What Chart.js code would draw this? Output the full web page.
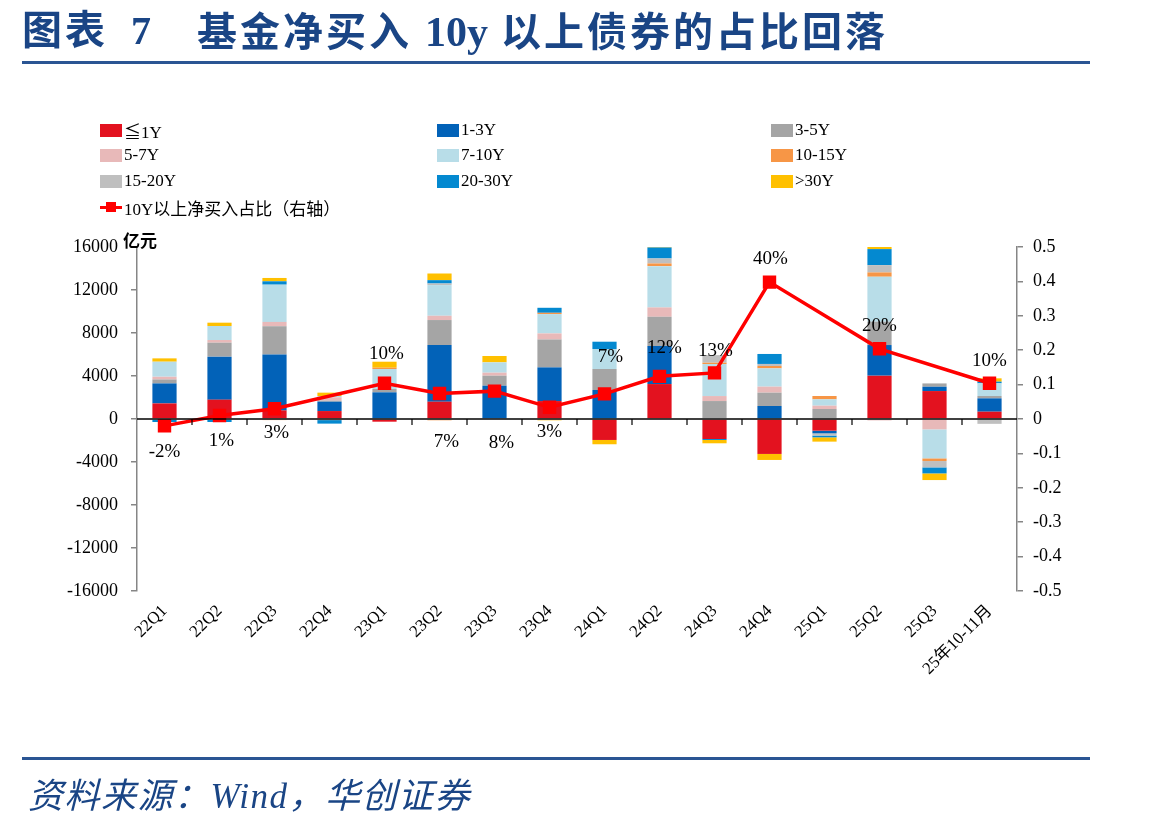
<!DOCTYPE html>
<html><head><meta charset="utf-8">
<script src="https://cdn.jsdelivr.net/npm/chart.js@4.4.1/dist/chart.umd.min.js"></script>
<style>
html,body{margin:0;padding:0;background:#fff;}
#wrap{position:relative;width:1149px;height:833px;overflow:hidden;background:#fff;}
#c{position:absolute;left:0;top:0;}
.t{position:absolute;white-space:nowrap;color:#1A4585;font-weight:bold;font-family:"Liberation Serif","Noto Sans CJK SC",serif;font-size:40px;letter-spacing:3px;line-height:1;}
.t b{letter-spacing:0;font-size:42px;}
.rule{position:absolute;left:22px;width:1068px;height:3px;background:#2A5593;}
.li{position:absolute;display:flex;align-items:center;height:24px;font-family:"Liberation Serif","Noto Sans CJK SC",serif;font-size:17px;color:#000;white-space:nowrap;}
.sw{width:22px;height:13px;margin-right:2px;}
.ln{position:relative;width:22px;height:3px;background:#FF0000;margin-right:2px;}
.ln i{position:absolute;left:6px;top:-4px;width:10px;height:10px;background:#FF0000;}
#foot{position:absolute;left:28px;top:779px;font-style:italic;font-weight:normal;font-size:35px;letter-spacing:1.5px;line-height:1;color:#1A4585;font-family:"Liberation Serif","Noto Sans CJK SC",serif;white-space:nowrap;}
#unit{position:absolute;left:123px;top:227px;font-weight:bold;font-size:17px;font-family:"Noto Sans CJK SC",sans-serif;color:#000;}
</style></head>
<body>
<div id="wrap">
<canvas id="c" width="1149" height="833"></canvas>
<div class="t" style="left:22px;top:11px;">图表</div>
<div class="t" style="left:131px;top:11px;">7</div>
<div class="t" style="left:197px;top:11px;">基金净买入 <b>10y</b> 以上债券的占比回落</div>
<div class="rule" style="top:61px;"></div>
<div id="legend"></div>
<div id="unit">亿元</div>
<div class="rule" style="top:757px;"></div>
<div id="foot">资料来源：Wind，华创证券</div>
</div>
<script>
const categories = ['22Q1','22Q2','22Q3','22Q4','23Q1','23Q2','23Q3','23Q4','24Q1','24Q2','24Q3','24Q4','25Q1','25Q2','25Q3','25年10-11月'];
const seriesNames = ['≦1Y','1-3Y','3-5Y','5-7Y','7-10Y','10-15Y','15-20Y','20-30Y','>30Y'];
const le1Y   = [1450,1800,800,740,-250,1610,0,1670,-1950,3250,-1860,-3250,-1085,4030,2600,680];
const y1_3   = [1860,4000,5200,870,2480,5270,3100,3130,2700,3530,0,1210,-250,2850,400,1240];
const y3_5   = [370,1300,2630,100,310,2325,930,2600,1950,2730,1670,1240,930,2170,310,220];
const y5_7   = [250,250,400,310,0,400,280,560,0,870,465,560,310,-130,-960,-80];
const y7_10  = [1400,1300,3470,120,1860,2850,960,1800,1860,3840,2980,1700,590,4185,-2700,1180];
const y10_15 = [0,0,-100,-100,120,-120,0,120,0,250,120,220,310,400,-250,0];
const y15_20 = [0,0,0,0,0,150,0,0,0,465,710,190,-200,680,-590,-370];
const y20_30 = [-280,-280,310,-330,0,310,0,465,680,1020,-90,930,-170,1490,-560,155];
const gt30   = [310,310,310,310,560,620,590,-120,-400,155,-310,-560,-400,310,-620,310];
const ratio10yPlus = [-0.02,0.01,0.03,null,0.104,0.074,0.081,0.034,0.073,0.124,0.134,0.398,null,0.204,null,0.104];
const lineName = '10Y以上净买入占比（右轴）';
const leftTicks = {min:-16000,max:16000,step:4000};
const rightTicks = {min:-0.5,max:0.5,step:0.1};

const seriesValues = [le1Y,y1_3,y3_5,y5_7,y7_10,y10_15,y15_20,y20_30,gt30];
const colors = ['#E3121F','#0262B8','#A5A5A5','#E8B9B9','#B8DDE8','#F79646','#BFBFBF','#0489D0','#FFC000'];

const FONT = '"Liberation Serif","Noto Sans CJK SC",serif';
Chart.defaults.font.family = FONT;
Chart.defaults.color = '#000';

const datasets = seriesNames.map((n,i)=>({
  type:'bar', label:n, data:seriesValues[i], backgroundColor:colors[i],
  yAxisID:'y', order:1, barPercentage:0.44, categoryPercentage:1.0, borderWidth:0
}));
datasets.push({
  type:'line', label:lineName, data:ratio10yPlus, yAxisID:'y2', order:0,
  borderColor:'#FF0000', backgroundColor:'#FF0000', borderWidth:3.5,
  pointStyle:'rect', pointRadius:7, pointHoverRadius:7, spanGaps:true, tension:0
});

const labelOffsets = {
  dx:[0,2,2,0,2,7,7,0,6,5,1,1,0,0,0,0],
  dy:[26,25,24,0,-29,48,52,25,-37,-28,-22,-23,0,-23,0,-22]
};

const zeroAxisPlugin = {
  id:'zeroAxis',
  afterDatasetsDraw(chart){
    const {ctx, chartArea, scales} = chart;
    const y0 = scales.y.getPixelForValue(0);
    ctx.save();
    ctx.strokeStyle = '#000'; ctx.lineWidth = 1.5;
    ctx.beginPath(); ctx.moveTo(chartArea.left, y0); ctx.lineTo(chartArea.right, y0); ctx.stroke();
    const xs = scales.x;
    ctx.lineWidth = 1.2;
    for (let i=1;i<categories.length;i++){
      const px = (xs.getPixelForValue(i-1)+xs.getPixelForValue(i))/2;
      ctx.beginPath(); ctx.moveTo(px, y0); ctx.lineTo(px, y0+6); ctx.stroke();
    }
    ctx.restore();
  }
};

const pointLabelPlugin = {
  id:'pointLabels',
  afterDatasetsDraw(chart){
    const {ctx} = chart;
    const di = chart.data.datasets.length-1;
    const meta = chart.getDatasetMeta(di);
    ctx.save();
    ctx.font = '19px ' + FONT;
    ctx.fillStyle = '#000';
    ctx.textAlign = 'center'; ctx.textBaseline = 'middle';
    meta.data.forEach((pt,i)=>{
      const v = ratio10yPlus[i];
      if (v===null) return;
      const txt = Math.round(v*100)+'%';
      ctx.fillText(txt, pt.x + labelOffsets.dx[i], pt.y + labelOffsets.dy[i]);
    });
    ctx.restore();
  }
};

const chart = new Chart(document.getElementById('c'), {
  data:{labels:categories, datasets},
  options:{
    responsive:false, animation:false, devicePixelRatio:1,
    layout:{padding:{left:67,right:72,top:247,bottom:122}},
    plugins:{legend:{display:false}, tooltip:{enabled:false}},
    scales:{
      x:{stacked:true, offset:true,
        grid:{display:false, drawTicks:false}, border:{display:false},
        ticks:{autoSkip:false, minRotation:45, maxRotation:45, padding:10, font:{size:17}, color:'#000'},
        afterFit(s){ s.height = 120; }
      },
      y:{stacked:true, position:'left', min:leftTicks.min, max:leftTicks.max,
        grid:{drawOnChartArea:false, drawTicks:true, tickLength:6, color:'#868686', lineWidth:1.5},
        border:{display:true, color:'#868686', width:1.5},
        ticks:{stepSize:leftTicks.step, padding:13, font:{size:18}, color:'#000', callback:v=>String(v)},
        afterFit(s){ s.width = 70; }
      },
      y2:{position:'right', min:rightTicks.min, max:rightTicks.max,
        grid:{drawOnChartArea:false, drawTicks:true, tickLength:6, color:'#868686', lineWidth:1.5},
        border:{display:true, color:'#868686', width:1.5},
        ticks:{stepSize:rightTicks.step, padding:10, font:{size:18}, color:'#000',
          callback:v=>{ const r = Math.round(v*10)/10; return String(r); }},
        afterFit(s){ s.width = 60; }
      }
    }
  },
  plugins:[zeroAxisPlugin, pointLabelPlugin]
});

// HTML legend from chart datasets
const legend = document.getElementById('legend');
const colX = [100,437,771];
const rowY = [118,143,169,195];
chart.data.datasets.forEach((ds,i)=>{
  const el = document.createElement('div');
  el.className = 'li';
  const r = Math.floor(i/3), c = i%3;
  el.style.left = colX[c]+'px'; el.style.top = rowY[r]+'px';
  if (ds.type==='line'){
    el.innerHTML = '<span class="ln"><i></i></span>';
  } else {
    el.innerHTML = '<span class="sw" style="background:'+ds.backgroundColor+'"></span>';
  }
  const s = document.createElement('span'); s.textContent = ds.label; el.appendChild(s);
  legend.appendChild(el);
});
</script>
</body></html>
